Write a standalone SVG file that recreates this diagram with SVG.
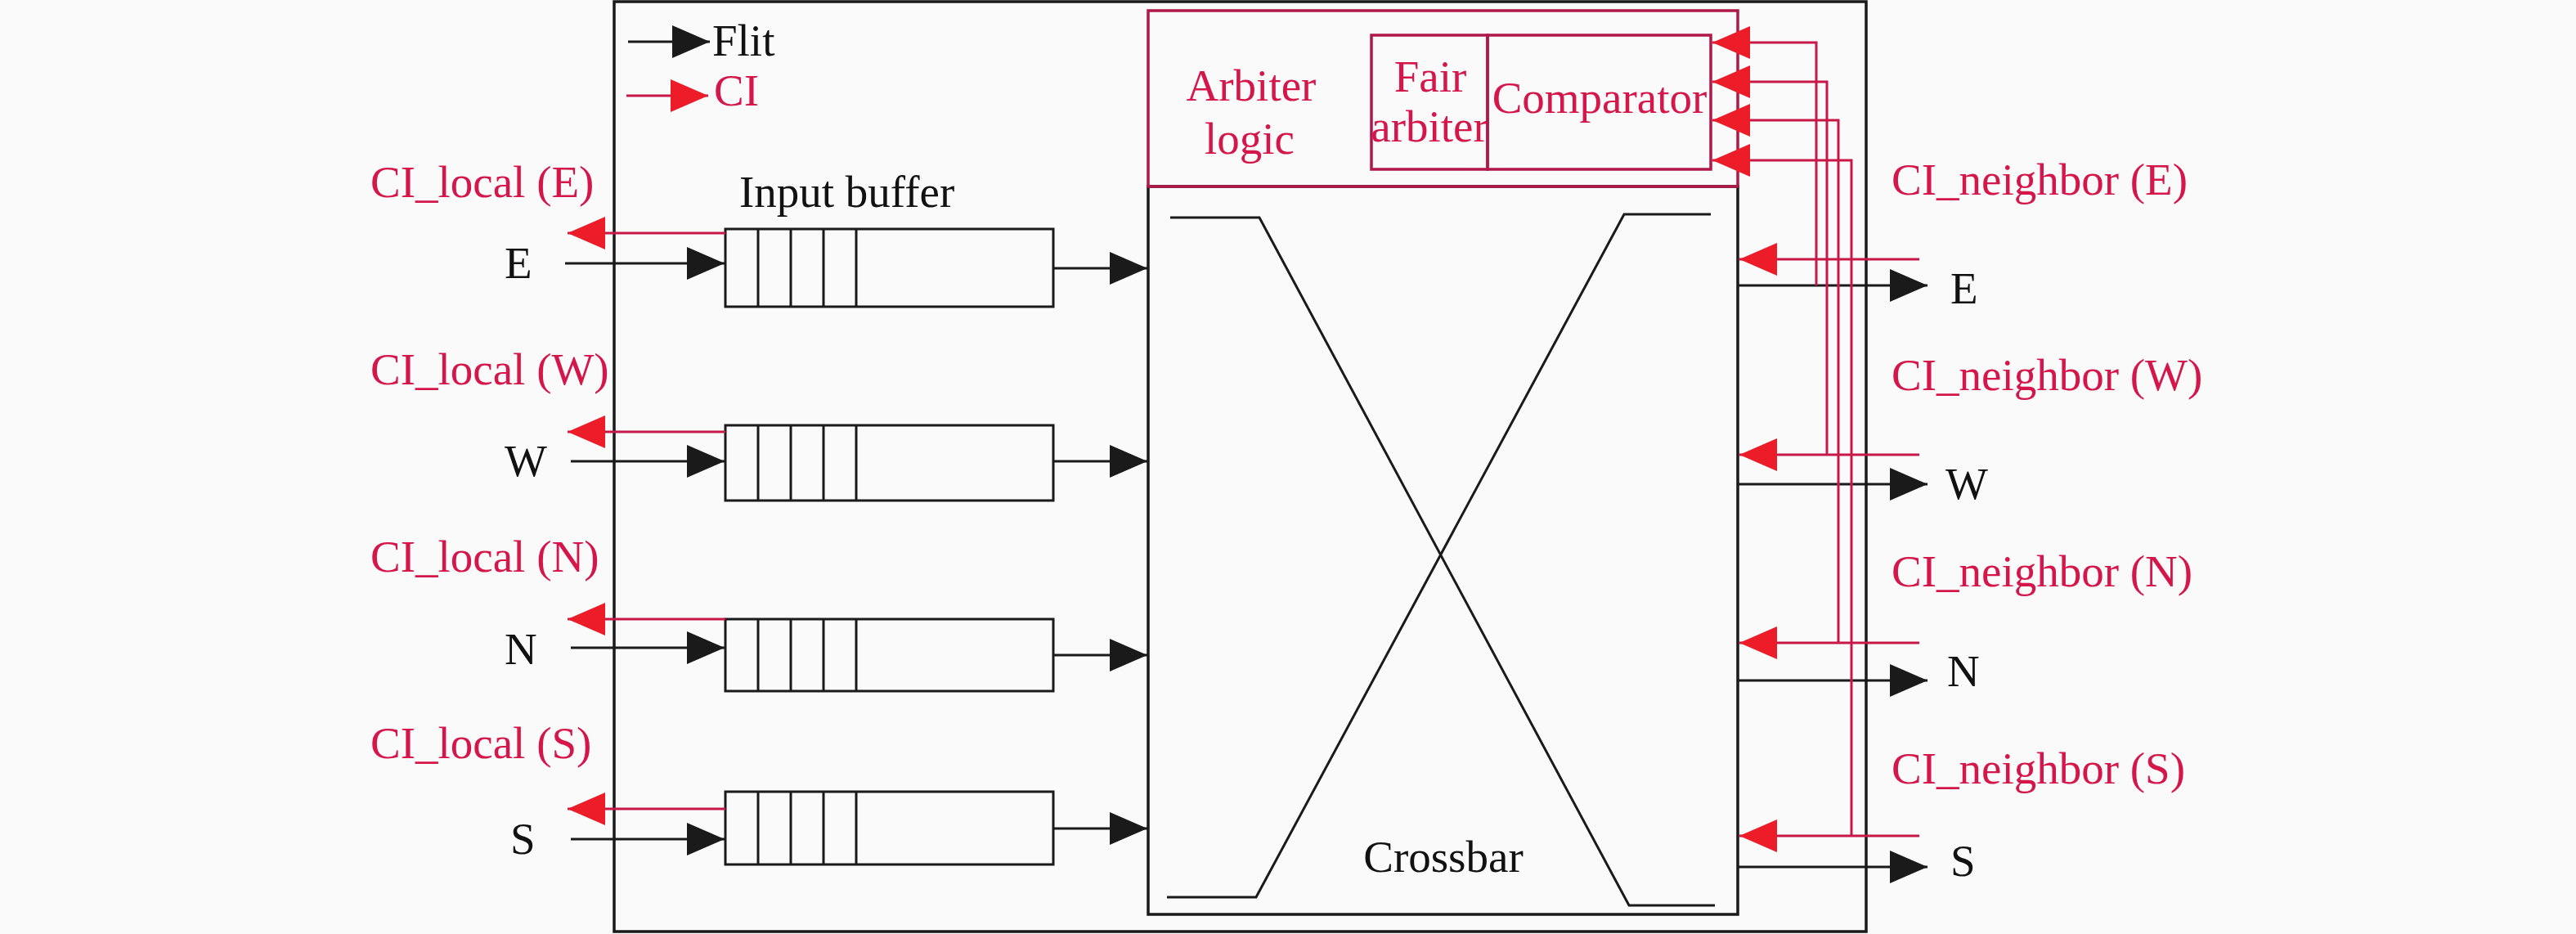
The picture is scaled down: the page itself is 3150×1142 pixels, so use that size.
<svg xmlns="http://www.w3.org/2000/svg" width="3150" height="1142" viewBox="0 0 3150 1142">
<defs>
<style>
.bk{stroke:#1a1a1a;stroke-width:3;fill:none}
.rd{stroke:#c8184a;stroke-width:3;fill:none}
.box{stroke:#1a1a1a;stroke-width:3.5;fill:none}
.rbox{stroke:#b0184a;stroke-width:3.5;fill:none}
text{font-family:"Liberation Serif","Times New Roman",serif;font-size:55px}
.tb{fill:#111}
.tr{fill:#d4164a}
.c{text-anchor:middle}
</style>
<marker id="ab" viewBox="0 0 46 40" refX="46" refY="20" markerWidth="46" markerHeight="40" markerUnits="userSpaceOnUse" orient="auto">
<path d="M0,0 L46,20 L0,40 Z" fill="#1a1a1a"/>
</marker>
<marker id="ar" viewBox="0 0 46 40" refX="46" refY="20" markerWidth="46" markerHeight="40" markerUnits="userSpaceOnUse" orient="auto">
<path d="M0,0 L46,20 L0,40 Z" fill="#ec1c28"/>
</marker>
</defs>
<rect width="3150" height="1142" fill="#fafafa"/>

<g id="router">
<rect class="box" x="751" y="2" width="1531" height="1137"/>
</g>

<g id="legend">
<line class="bk" x1="768" y1="51" x2="868" y2="51" marker-end="url(#ab)"/>
<text class="tb" x="871" y="68">Flit</text>
<line class="rd" x1="766" y1="117" x2="866" y2="117" marker-end="url(#ar)"/>
<text class="tr" x="873" y="129">CI</text>
</g>

<g id="input-buffers">
<text class="tb" x="904" y="253">Input buffer</text>
<g id="buffer-E">
<rect class="bk" x="887" y="280" width="401" height="95"/>
<path class="bk" d="M927,280V375M967,280V375M1007,280V375M1047,280V375"/>
</g>
<g id="buffer-W">
<rect class="bk" x="887" y="520" width="401" height="92"/>
<path class="bk" d="M927,520V612M967,520V612M1007,520V612M1047,520V612"/>
</g>
<g id="buffer-N">
<rect class="bk" x="887" y="757" width="401" height="88"/>
<path class="bk" d="M927,757V845M967,757V845M1007,757V845M1047,757V845"/>
</g>
<g id="buffer-S">
<rect class="bk" x="887" y="968" width="401" height="89"/>
<path class="bk" d="M927,968V1057M967,968V1057M1007,968V1057M1047,968V1057"/>
</g>
</g>

<g id="crossbar">
<rect class="box" x="1404" y="228" width="721" height="890"/>
<polyline class="bk" points="1431,266 1540,266 1992,1107 2097,1107"/>
<polyline class="bk" points="1427,1097 1536,1097 1986,262 2092,262"/>
<text class="tb c" x="1765" y="1066">Crossbar</text>
</g>

<g id="arbiter-logic">
<rect class="rbox" x="1404" y="13" width="721" height="215" fill="#fafafa"/>
<text class="tr c" x="1530" y="123">Arbiter</text>
<text class="tr c" x="1528" y="188">logic</text>
</g>
<g id="fair-arbiter">
<rect class="rbox" x="1677" y="43" width="142" height="164"/>
<text class="tr c" x="1749" y="112">Fair</text>
<text class="tr c" x="1748" y="173">arbiter</text>
</g>
<g id="comparator">
<rect class="rbox" x="1819" y="43" width="273" height="164"/>
<text class="tr c" x="1956" y="138">Comparator</text>
</g>

<g id="labels">
<text class="tr" x="453" y="241">CI_local (E)</text>
<text class="tr" x="453" y="470">CI_local (W)</text>
<text class="tr" x="453" y="699">CI_local (N)</text>
<text class="tr" x="453" y="927">CI_local (S)</text>
<text class="tb" x="617" y="340">E</text>
<text class="tb" x="617" y="582">W</text>
<text class="tb" x="617" y="812">N</text>
<text class="tb" x="624" y="1044">S</text>
<text class="tr" x="2313" y="238">CI_neighbor (E)</text>
<text class="tr" x="2313" y="477">CI_neighbor (W)</text>
<text class="tr" x="2313" y="717">CI_neighbor (N)</text>
<text class="tr" x="2313" y="958">CI_neighbor (S)</text>
<text class="tb" x="2385" y="371">E</text>
<text class="tb" x="2379" y="610">W</text>
<text class="tb" x="2381" y="839">N</text>
<text class="tb" x="2385" y="1071">S</text>
</g>

<g id="connectors">
<!-- flit inputs -->
<line class="bk" x1="691" y1="322" x2="886" y2="322" marker-end="url(#ab)"/>
<line class="bk" x1="698" y1="564" x2="886" y2="564" marker-end="url(#ab)"/>
<line class="bk" x1="698" y1="792" x2="886" y2="792" marker-end="url(#ab)"/>
<line class="bk" x1="698" y1="1026" x2="886" y2="1026" marker-end="url(#ab)"/>
<!-- buffer to crossbar -->
<line class="bk" x1="1288" y1="328" x2="1403" y2="328" marker-end="url(#ab)"/>
<line class="bk" x1="1288" y1="564" x2="1403" y2="564" marker-end="url(#ab)"/>
<line class="bk" x1="1288" y1="801" x2="1403" y2="801" marker-end="url(#ab)"/>
<line class="bk" x1="1288" y1="1013" x2="1403" y2="1013" marker-end="url(#ab)"/>
<!-- CI local outputs -->
<line class="rd" x1="887" y1="285" x2="694" y2="285" marker-end="url(#ar)"/>
<line class="rd" x1="887" y1="528" x2="694" y2="528" marker-end="url(#ar)"/>
<line class="rd" x1="887" y1="757" x2="694" y2="757" marker-end="url(#ar)"/>
<line class="rd" x1="887" y1="989" x2="694" y2="989" marker-end="url(#ar)"/>
<!-- flit outputs -->
<line class="bk" x1="2125" y1="349" x2="2357" y2="349" marker-end="url(#ab)"/>
<line class="bk" x1="2125" y1="592" x2="2357" y2="592" marker-end="url(#ab)"/>
<line class="bk" x1="2125" y1="832" x2="2357" y2="832" marker-end="url(#ab)"/>
<line class="bk" x1="2125" y1="1060" x2="2357" y2="1060" marker-end="url(#ab)"/>
<!-- CI neighbor inputs -->
<line class="rd" x1="2347" y1="317" x2="2127" y2="317" marker-end="url(#ar)"/>
<line class="rd" x1="2347" y1="556" x2="2127" y2="556" marker-end="url(#ar)"/>
<line class="rd" x1="2347" y1="786" x2="2127" y2="786" marker-end="url(#ar)"/>
<line class="rd" x1="2347" y1="1022" x2="2127" y2="1022" marker-end="url(#ar)"/>
<!-- CI neighbor to comparator -->
<path class="rd" d="M2221,349V52H2094" marker-end="url(#ar)"/>
<path class="rd" d="M2234,556V100H2094" marker-end="url(#ar)"/>
<path class="rd" d="M2248,786V147H2094" marker-end="url(#ar)"/>
<path class="rd" d="M2264,1022V196H2094" marker-end="url(#ar)"/>
</g>
</svg>
